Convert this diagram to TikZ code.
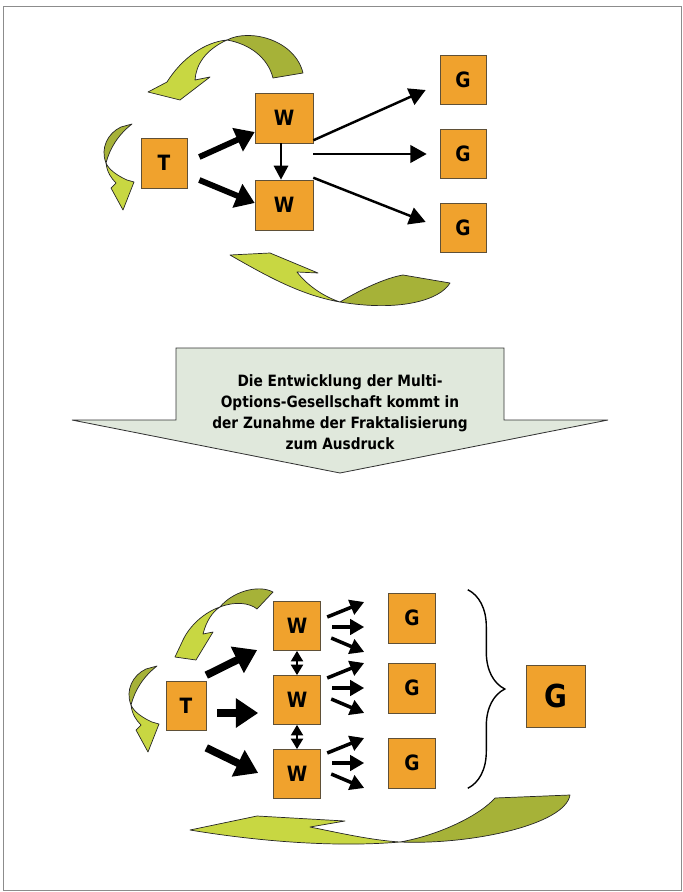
\documentclass[tikz,border=0pt]{standalone}
\usepackage{fontspec}
\setmainfont{DejaVu Sans}
\newfontfamily\narrowsans[FakeStretch=0.88]{DejaVu Sans}
\usetikzlibrary{arrows.meta,calc,decorations.pathreplacing}

\definecolor{boxorange}{RGB}{240,162,45}
\definecolor{boxline}{RGB}{95,80,55}
\definecolor{leaflight}{RGB}{200,215,66}
\definecolor{leafdark}{RGB}{166,178,56}
\definecolor{calloutfill}{RGB}{224,232,220}
\definecolor{framegray}{RGB}{140,140,140}

\tikzset{
  cell/.style={draw=boxline,line width=0.5pt,fill=boxorange,inner sep=0pt,
    font=\narrowsans\bfseries\fontsize{18}{18}\selectfont},
  leaf/.style={draw=black!85,line width=0.6pt,line join=round},
  fat/.style={line width=5pt,-{Triangle[length=16pt,width=21pt]}},
  bigfat/.style={line width=6.5pt,-{Triangle[length=19pt,width=24pt]}},
  slim/.style={line width=2.1pt,-{Triangle[length=14pt,width=15pt]}},
  drop/.style={line width=2.5pt,-{Triangle[length=12pt,width=12pt]}},
  twin/.style={line width=2.5pt,{Triangle[length=9pt,width=10pt]}-{Triangle[length=9pt,width=10pt]}},
  fan/.style={line width=3pt,-{Triangle[length=12pt,width=13pt]}},
}

\begin{document}
\begin{tikzpicture}[x=0.03cm,y=-0.03cm]
 \useasboundingbox (0,0) rectangle (683,892);
 \draw[framegray,line width=0.8pt] (3,6) rectangle (681,890);

 % curved green arrows, upper diagram
 \draw[leaf,fill=leafdark] (227,40) .. controls (250,28) and (295,40) .. (303,73) -- (273,78) .. controls (268,58) and (250,44) .. (227,40) -- cycle;
 \draw[leaf,fill=leaflight] (227,40) .. controls (205,42) and (182,58) .. (167,82) -- (148,92) -- (180,100) -- (210,77) -- (195,80) .. controls (196,65) and (205,50) .. (227,40) -- cycle;
 \draw[leaf,fill=leafdark] (340,302) .. controls (360,290) and (385,278) .. (403,275) -- (450,283) .. controls (440,300) and (400,312) .. (340,302) -- cycle;
 \draw[leaf,fill=leaflight] (340,302) .. controls (322,296) and (306,284) .. (297,272) -- (318,273) -- (270,253) -- (230,255) .. controls (265,275) and (300,295) .. (340,302) -- cycle;
 \foreach \dx/\dy in {0/0,25/542}{%
   \begin{scope}[shift={(\dx,\dy)}]
     \draw[leaf,fill=leafdark] (106,163) .. controls (100,148) and (108,133) .. (121,127) -- (132,124) .. controls (118,135) and (110,148) .. (106,163) -- cycle;
     \draw[leaf,fill=leaflight] (106,163) .. controls (107,172) and (111,178) .. (116,183) -- (111,188) -- (123,210) -- (134,182) -- (127,180) .. controls (118,176) and (109,170) .. (106,163) -- cycle;
   \end{scope}
 }

 % upper diagram
 \node[cell,minimum width=1.38cm,minimum height=1.5cm] (t) at (164,163) {T};
 \node[cell,minimum width=1.74cm,minimum height=1.5cm] (wt) at (284,118) {W};
 \node[cell,minimum width=1.74cm,minimum height=1.5cm] (wb) at (284,205) {W};
 \foreach \n/\y in {gt/80,gm/154,gb/228}{%
   \node[cell,minimum width=1.38cm,minimum height=1.47cm] (\n) at (463,\y) {G};
 }
 \draw[fat] ($(t.east)+(12,-6)$) -- ($(wt.west)+(0,14)$);
 \draw[fat] ($(t.east)+(12,17)$) -- ($(wb.west)+(0,-2)$);
 \draw[drop] ($(wt.south)+(-3,0)$) -- ($(wb.north)+(-3,0)$);
 \draw[slim] ($(wt.south east)+(0,-3)$) -- ($(gt.west)+(-14,10)$);
 \draw[slim] (wt.east |- gm.west) -- ($(gm.west)+(-13,0)$);
 \draw[slim] ($(wb.north east)+(0,-2)$) -- ($(gb.west)+(-14,-6)$);

 % message
 \draw[black!80,line width=0.7pt,fill=calloutfill] (176,348) -- (504,348) -- (504,420) -- (608,420) -- (340,473) -- (72,420) -- (176,420) -- cycle;
 \node[align=center,inner sep=0pt,font=\narrowsans\bfseries\fontsize{13.3}{17.9}\selectfont] (msg) at (340,412)
   {Die Entwicklung der Multi-\\Options-Gesellschaft kommt in\\der Zunahme der Fraktalisierung\\zum Ausdruck};

 % curved green arrows, lower diagram
 \draw[leaf,fill=leafdark] (220,607) .. controls (232,592) and (258,584) .. (273,592) -- (257,609) .. controls (250,603) and (235,601) .. (220,607) -- cycle;
 \draw[leaf,fill=leaflight] (220,607) .. controls (205,612) and (190,625) .. (183,640) -- (175,657) -- (196,660) -- (213,632) -- (203,634) .. controls (206,622) and (212,612) .. (220,607) -- cycle;
 \draw[leaf,fill=leafdark] (400,842) .. controls (440,835) and (480,815) .. (495,798) -- (570,795) .. controls (565,825) and (470,845) .. (400,842) -- cycle;
 \draw[leaf,fill=leaflight] (400,842) .. controls (370,840) and (340,833) .. (310,827) -- (345,821) -- (257,816) -- (190,830) .. controls (250,840) and (330,848) .. (400,842) -- cycle;

 % lower diagram
 \node[cell,minimum width=1.2cm,minimum height=1.47cm] (bt) at (186,706) {T};
 \foreach \n/\y in {bwt/626,bwm/700,bwb/774}{%
   \node[cell,minimum width=1.41cm,minimum height=1.47cm] (\n) at (297,\y) {W};
 }
 \foreach \n/\y in {bgt/618,bgm/688,bgb/763}{%
   \node[cell,minimum width=1.41cm,minimum height=1.5cm] (\n) at (412,\y) {G};
 }
 \node[cell,minimum width=1.77cm,minimum height=1.86cm,font=\narrowsans\bfseries\fontsize{27}{27}\selectfont] (bg) at (556,696) {G};

 \draw[bigfat] ($(bt.north east)+(0,-6)$) -- ($(bwt.west)+(-16,24)$);
 \draw[bigfat] ($(bt.east)+(11,7)$) -- ($(bwm.west)+(-15,13)$);
 \draw[bigfat] ($(bt.south east)+(0,17)$) -- ($(bwb.west)+(-15,-1)$);
 \draw[twin] (bwt.south) -- (bwm.north);
 \draw[twin] (bwm.south) -- (bwb.north);
 \foreach \g/\dy in {bgt/9,bgm/0,bgb/0}{%
   \draw[fan] ($(\g.west)+(-61,\dy-10)$) -- ($(\g.west)+(-24,\dy-25)$);
   \draw[fan] ($(\g.west)+(-56,\dy)$) -- ($(\g.west)+(-24,\dy)$);
   \draw[fan] ($(\g.west)+(-57,\dy+11)$) -- ($(\g.west)+(-24,\dy+25)$);
 }
 \draw[line width=1.2pt,decorate,decoration={brace,amplitude=1.11cm}]
   ($(bgt.north east)+(32,-3)$) -- ($(bgb.south east)+(32,0)$);
\end{tikzpicture}
\end{document}
